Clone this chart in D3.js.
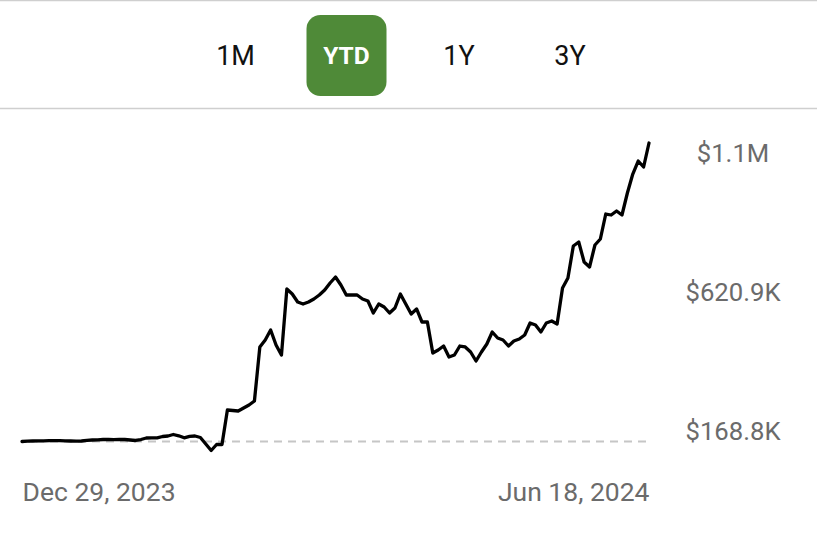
<!DOCTYPE html>
<html>
<head>
<meta charset="utf-8">
<script src="https://cdn.jsdelivr.net/npm/d3@7"></script>
<style>
  html, body { margin: 0; padding: 0; background: #fff; }
  svg { display: block; }
</style>
</head>
<body>
<svg id="chart" width="817" height="555"></svg>
<script>
// ---- Data (values in thousands of USD) ----
const rangeButtons = ["1M", "YTD", "1Y", "3Y"];
const activeRange = "YTD";
const xTickLabels = ["Dec 29, 2023", "Jun 18, 2024"];
const yTickValues = [168.8, 620.9, 1073.0];
const yTickLabels = ["$168.8K", "$620.9K", "$1.1M"];
const baselineValue = 168.8;
const portfolioValues = [
  168.8, 169.8, 170.4, 171.1, 171.1, 171.7, 171.7, 171.4, 171.1, 170.4,
  169.8, 170.4, 172.7, 173.7, 174.3, 175.3, 175.6, 175.0, 176.0, 175.3,
  173.7, 172.1, 175.3, 180.2, 180.8, 180.8, 185.1, 186.7, 191.6, 187.3,
  180.8, 185.7, 186.7, 181.8, 160.7, 139.5, 159.0, 159.0, 271.3, 269.6,
  268.0, 277.8, 287.5, 300.5, 476.2, 498.9, 531.5, 482.7, 450.1, 664.8,
  648.5, 622.5, 616.0, 622.5, 632.3, 645.3, 661.6, 684.3, 703.8, 677.8,
  645.3, 645.3, 645.3, 632.3, 625.8, 586.7, 616.0, 606.3, 586.7, 603.0,
  648.5, 616.0, 583.5, 599.8, 557.5, 557.5, 456.6, 466.4, 479.4, 443.6,
  450.1, 479.4, 476.2, 459.9, 430.6, 459.9, 485.9, 524.9, 505.4, 498.9,
  479.4, 495.7, 502.2, 515.2, 554.2, 547.7, 524.9, 554.2, 560.7, 551.0,
  668.1, 700.6, 804.7, 817.7, 752.6, 736.4, 807.9, 827.4, 908.7, 905.5,
  918.5, 905.5, 977.0, 1038.8, 1081.1, 1061.6, 1139.7
];

// ---- Layout ----
const svg = d3.select("#chart");
const W = 817, H = 555;
const plot = { left: 22, right: 649 };

// top and separator lines
svg.append("line").attr("x1", 0).attr("x2", W).attr("y1", 0.5).attr("y2", 0.5)
  .attr("stroke", "#cfcfcf").attr("stroke-width", 1.5);
svg.append("line").attr("x1", 0).attr("x2", W).attr("y1", 108.5).attr("y2", 108.5)
  .attr("stroke", "#cfcfcf").attr("stroke-width", 1.5);

// range buttons
const btnCenters = { "1M": 235.5, "YTD": 346.5, "1Y": 459, "3Y": 570 };
const btn = svg.append("g").selectAll("g").data(rangeButtons).join("g");
btn.filter(d => d === activeRange).append("rect")
  .attr("x", d => btnCenters[d] - 40).attr("y", 15)
  .attr("width", 80).attr("height", 81).attr("rx", 14)
  .attr("fill", "#4f8a38");
btn.append("text")
  .attr("x", d => btnCenters[d]).attr("y", 55.5)
  .attr("text-anchor", "middle").attr("dominant-baseline", "central")
  .attr("font-family", "Roboto, 'Open Sans', sans-serif")
  .attr("font-size", d => d === activeRange ? 24.5 : 27)
  .attr("font-weight", d => d === activeRange ? 700 : 400)
  .attr("fill", d => d === activeRange ? "#ffffff" : "#111111")
  .text(d => d);

// scales
const x = d3.scaleLinear().domain([0, portfolioValues.length - 1]).range([plot.left, plot.right]);
const y = d3.scaleLinear().domain([168.8, 1073.0]).range([441.5, 163.5]);

// baseline dashed
svg.append("line")
  .attr("x1", plot.left).attr("x2", plot.right)
  .attr("y1", y(baselineValue)).attr("y2", y(baselineValue))
  .attr("stroke", "#c6c6c6").attr("stroke-width", 2)
  .attr("stroke-dasharray", "8,6");

// line
const line = d3.line().x((d, i) => x(i)).y(d => y(d));
svg.append("path").datum(portfolioValues)
  .attr("d", line)
  .attr("fill", "none").attr("stroke", "#000").attr("stroke-width", 3.3)
  .attr("stroke-linejoin", "round").attr("stroke-linecap", "round");

// y axis labels (right)
const yAxis = d3.axisRight(y).tickValues(yTickValues)
  .tickFormat((d, i) => yTickLabels[i]).tickSize(0).tickPadding(0);
const gy = svg.append("g").attr("transform", "translate(733,0)").call(yAxis);
gy.select(".domain").remove();
gy.selectAll("text")
  .attr("text-anchor", "middle")
  .attr("dy", "-2px")
  .attr("font-family", "Roboto, 'Open Sans', sans-serif")
  .attr("font-size", 25.7)
  .attr("fill", "#6b6b6b");

// x axis labels (bottom)
const xAxis = d3.axisBottom(x).tickValues([0, portfolioValues.length - 1])
  .tickFormat((d, i) => xTickLabels[i]).tickSize(0).tickPadding(0);
const gx = svg.append("g").attr("transform", "translate(0,482)").call(xAxis);
gx.select(".domain").remove();
gx.selectAll("text")
  .attr("text-anchor", (d, i) => i === 0 ? "start" : "end")
  .attr("font-family", "Roboto, 'Open Sans', sans-serif")
  .attr("font-size", 26.5)
  .attr("fill", "#6b6b6b");
</script>
</body>
</html>
